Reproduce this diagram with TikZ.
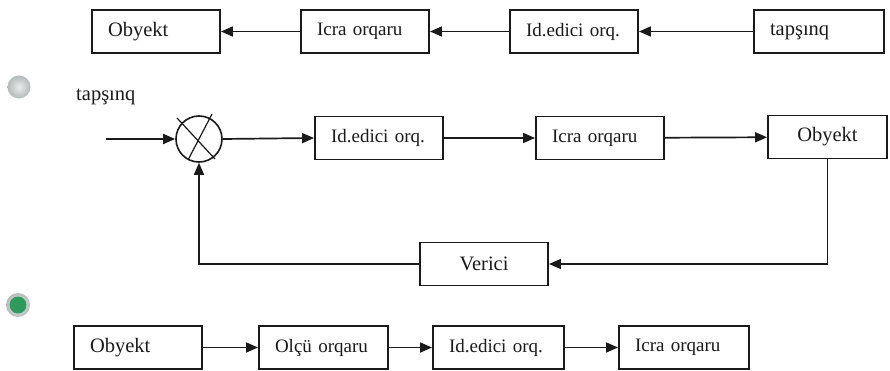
\documentclass[tikz,border=0pt]{standalone}
\usepackage{fontspec}
\setmainfont{Liberation Serif}
\usetikzlibrary{arrows.meta,shadings}

\newcommand\txtbig{\fontsize{20.5}{24}\selectfont}
\newcommand\txtsmall{\fontsize{19}{22}\selectfont}

\definecolor{ink}{HTML}{1A1A1A}
\definecolor{bulletgrey}{HTML}{D9DEDD}
\definecolor{bulletedge}{HTML}{B4BBBA}
\definecolor{bulletgreen}{HTML}{2E9A5C}

\tikzset{
  blk/.style={draw=ink, line width=1.9pt, minimum height=43pt, inner ysep=0pt,
              inner xsep=16pt, text width=96pt, align=left, text=ink, font=\txtsmall},
  blkc/.style={blk, align=center, font=\txtbig},
  conn/.style={draw=ink, line width=1.7pt, -{Triangle[length=12pt,width=10pt]}},
  plain/.style={draw=ink, line width=1.4pt},
}

\begin{document}
\begin{tikzpicture}[x=1pt, y=-1pt]
\useasboundingbox (0,0) rectangle (890,371);

% list bullets
\shade[inner color=bulletgrey!60, outer color=bulletedge] (19,87) circle (11.5);
\shade[inner color=white!85!bulletedge, outer color=bulletedge] (18,305) circle (12);
\fill[bulletgreen] (18,305) circle (8.5);

% open chain: task -> regulator -> actuator -> object
\node[blk, font=\txtbig] (obA) at (156,31.5) {Obyekt};
\node[blk] (icA) at (365,31.5) {Icra orqaru};
\node[blk] (idA) at (574,31.5) {Id.edici orq.};
\node[blk, text width=98pt, font=\txtbig] (tpA) at (819,31.5) {tapşınq};
\draw[conn] (tpA) -- (idA);
\draw[conn] (idA) -- (icA);
\draw[conn] (icA) -- (obA);

% closed loop with feedback
\node[anchor=base west, text=ink, font=\txtbig, inner sep=0pt] (tpB) at (76,101) {tapşınq};
\coordinate (inB) at (106,139);
\node[draw=ink, line width=1.6pt, circle, minimum size=46pt, inner sep=0pt] (sum) at (199,139) {};
\draw[plain, line width=1.2pt] ([shift={(-22,-21)}]sum.center) -- ([shift={(16,20)}]sum.center);
\draw[plain, line width=1.2pt] ([shift={(13,-25)}]sum.center) -- ([shift={(-11,21)}]sum.center);
\node[blk] (idB) at (379,138) {Id.edici orq.};
\node[blk] (icB) at (600,138) {Icra orqaru};
\node[blkc, text width=87pt] (obB) at (827.5,137) {Obyekt};
\node[blkc] (ver) at (484,264) {Verici};
\draw[conn] (inB) -- (sum.west);
\draw[conn] (sum.east) -- (idB.west);
\draw[conn] (idB) -- (icB);
\draw[conn] (icB) -- (obB);
\draw[conn] (obB.south) |- (ver.east);
\draw[conn] (ver.west) -| (sum.south);

% measuring chain
\node[blk, font=\txtbig] (obC) at (138,347.5) {Obyekt};
\node[blk, text width=97pt] (olC) at (323.5,347.5) {Olçü orqaru};
\node[blk, text width=99pt] (idC) at (498.5,347.5) {Id.edici orq.};
\node[blk, text width=98pt] (icC) at (684,347.5) {Icra orqaru};
\draw[conn] (obC) -- (olC);
\draw[conn] (olC) -- (idC);
\draw[conn] (idC) -- (icC);
\end{tikzpicture}
\end{document}
